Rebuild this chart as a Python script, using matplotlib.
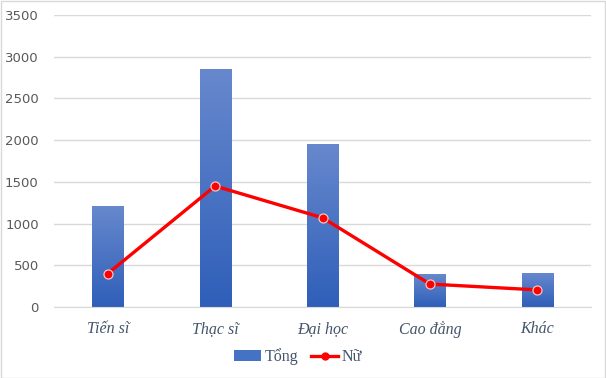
import numpy as np
import matplotlib.pyplot as plt
from matplotlib.patches import Patch
from matplotlib.lines import Line2D
from matplotlib.colors import LinearSegmentedColormap

categories = ['Tiến sĩ', 'Thạc sĩ', 'Đại học', 'Cao đẳng', 'Khác']
tong = [1200, 2850, 1950, 385, 400]
nu = [400, 1450, 1070, 275, 205]
yticks = [0, 500, 1000, 1500, 2000, 2500, 3000, 3500]

fig = plt.figure(figsize=(6.06, 3.78), dpi=100)
ax = fig.add_axes([54 / 606, 71 / 378, 537 / 606, 292 / 378])

x = np.arange(len(categories))
width = 0.29

# gradient bars: light on top, darker at bottom
grad = np.linspace(0, 1, 256).reshape(-1, 1)
cmap = LinearSegmentedColormap.from_list('blu', ['#2F5FB9', '#6788CD'])
bars = ax.bar(x, tong, width=width, color='none', zorder=2)
for b in bars:
    x0, y0 = b.get_x(), b.get_y()
    ax.imshow(grad, cmap=cmap, origin='lower', aspect='auto', zorder=2,
              extent=[x0, x0 + b.get_width(), y0, y0 + b.get_height()])

ax.plot(x, nu, color='#FF0000', lw=2.4, marker='o', markersize=6.5,
        markerfacecolor='#FF0000', markeredgecolor='#F2C4C4', markeredgewidth=0.9, zorder=3)

ax.set_xlim(-0.5, len(categories) - 0.5)
ax.set_ylim(0, 3500)
ax.set_yticks(yticks)
ax.set_xticks(x)
ax.set_xticklabels(categories, family='Liberation Serif', style='italic', fontsize=11.5, color='#44546A')
ax.tick_params(axis='y', labelsize=9.5, labelcolor='#595959', length=0, pad=11)
ax.tick_params(axis='x', length=0, pad=10)
ax.grid(axis='y', color='#D9D9D9', lw=1, zorder=0)
ax.set_axisbelow(True)
for s in ['top', 'right', 'left']:
    ax.spines[s].set_visible(False)
ax.spines['bottom'].set_color('#D9D9D9')

handles = [Patch(facecolor='#4472C4', label='Tổng'),
           Line2D([0], [0], color='#FF0000', lw=2.4, marker='o', markersize=5, label='Nữ')]
fig.legend(handles=handles, loc='center', bbox_to_anchor=(298 / 606, 1 - 357 / 378), ncol=2,
           frameon=False, prop={'family': 'Liberation Serif', 'size': 11.5}, labelcolor='#44546A',
           handlelength=1.7, handletextpad=0.2, columnspacing=0.8)

fig.patches.append(plt.Rectangle((0.001, 0.001), 0.997, 0.996, transform=fig.transFigure,
                                 fill=False, edgecolor='#D9D9D9', lw=1))

fig.savefig('out.png', dpi=100)
